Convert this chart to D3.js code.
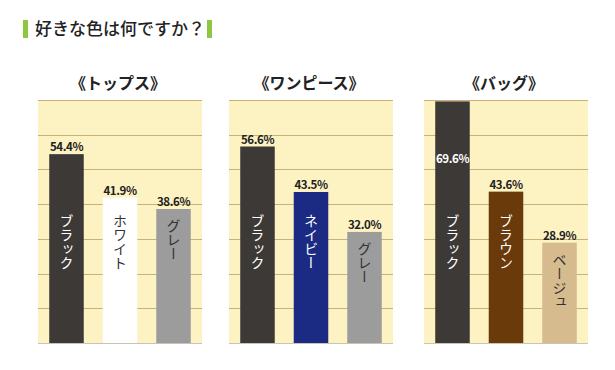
<!DOCTYPE html>
<html>
<head>
<meta charset="utf-8">
<script src="https://cdn.jsdelivr.net/npm/d3@7"></script>
<style>
  body { margin: 0; background: #fff; }
  svg text { font-family: "Noto Sans CJK JP", "Noto Sans", sans-serif; }
</style>
</head>
<body>
<svg id="chart" width="615" height="370"></svg>
<script>
// data
var title = "好きな色は何ですか？";
var panelTitles = ["《トップス》", "《ワンピース》", "《バッグ》"];
var topsNames = ["ブラック", "ホワイト", "グレー"];
var topsValues = [54.4, 41.9, 38.6];
var dressNames = ["ブラック", "ネイビー", "グレー"];
var dressValues = [56.6, 43.5, 32.0];
var bagNames = ["ブラック", "ブラウン", "ベージュ"];
var bagValues = [69.6, 43.6, 28.9];
var gridTicks = [10, 20, 30, 40, 50, 60, 70];

var topsColors = ["#3d3936", "#ffffff", "#9c9c9c"];
var dressColors = ["#3d3936", "#1b2a82", "#9c9c9c"];
var bagColors = ["#3d3936", "#6a3a0b", "#d6bb8f"];

var panels = [
  { title: panelTitles[0], names: topsNames, values: topsValues, colors: topsColors },
  { title: panelTitles[1], names: dressNames, values: dressValues, colors: dressColors },
  { title: panelTitles[2], names: bagNames, values: bagValues, colors: bagColors }
];

var svg = d3.select("#chart");

// header
svg.append("rect").attr("x", 23).attr("y", 20).attr("width", 5).attr("height", 18).attr("fill", "#8dc63f");
svg.append("text")
    .attr("x", 35).attr("y", 35)
    .attr("font-size", 17)
    .attr("font-weight", 500)
    .attr("fill", "#222")
    .text(title);
svg.append("rect").attr("x", 207).attr("y", 20).attr("width", 5).attr("height", 18).attr("fill", "#8dc63f");

var panelX = [38, 229, 424];
var panelW = 164;
var plotTop = 100, plotBottom = 343;

var y = d3.scaleLinear().domain([0, 70]).range([plotBottom, plotTop]);

panels.forEach(function(p, i) {
  var x0 = panelX[i];
  var g = svg.append("g");

  var x = d3.scaleBand()
      .domain(p.names.map(function(d, j) { return j; }))
      .range([x0, x0 + panelW])
      .paddingInner(0.355)
      .paddingOuter(0.21);

  g.append("text")
      .attr("x", x0 + panelW / 2 - 2)
      .attr("y", 89)
      .attr("text-anchor", "middle")
      .attr("font-size", 16)
      .attr("font-weight", "bold")
      .attr("fill", "#222")
      .text(p.title);

  g.append("rect")
      .attr("x", x0).attr("y", plotTop)
      .attr("width", panelW).attr("height", plotBottom - plotTop)
      .attr("fill", "#fdf2c2");

  g.selectAll(".grid")
    .data(gridTicks)
    .enter().append("line")
      .attr("x1", x0).attr("x2", x0 + panelW)
      .attr("y1", function(d) { return Math.round(y(d)) + 0.5; })
      .attr("y2", function(d) { return Math.round(y(d)) + 0.5; })
      .attr("stroke", "#c8b27c")
      .attr("stroke-width", 1);

  g.append("line")
      .attr("x1", x0).attr("x2", x0 + panelW)
      .attr("y1", plotBottom + 0.5).attr("y2", plotBottom + 0.5)
      .attr("stroke", "#c9c5b5");

  var data = p.values.map(function(v, j) {
    return { name: p.names[j], value: v, color: p.colors[j], idx: j };
  });

  g.selectAll(".bar")
    .data(data)
    .enter().append("rect")
      .attr("x", function(d) { return x(d.idx); })
      .attr("y", function(d) { return y(d.value); })
      .attr("width", x.bandwidth())
      .attr("height", function(d) { return plotBottom - y(d.value); })
      .attr("fill", function(d) { return d.color; });

  var dark = function(c) { return d3.lab(c).l < 50; };

  // value labels
  g.selectAll(".val")
    .data(data)
    .enter().append("text")
      .attr("x", function(d) { return x(d.idx) + x.bandwidth() / 2; })
      .attr("y", function(d) { return d.value > 65 ? y(d.value) + 62 : y(d.value) - 3; })
      .attr("text-anchor", "middle")
      .attr("font-size", 11.5)
      .attr("font-weight", "bold")
      .attr("letter-spacing", -0.4)
      .attr("fill", function(d) { return d.value > 65 ? "#fff" : "#222"; })
      .text(function(d) { return d.value.toFixed(1) + "%"; });

  // vertical category labels
  g.selectAll(".name")
    .data(data)
    .enter().append("text")
      .attr("x", function(d) { return x(d.idx) + x.bandwidth() / 2; })
      .attr("y", function(d) { return Math.max(y(d.value) + 10, 214); })
      .attr("writing-mode", "vertical-rl")
      .attr("font-size", 14)
      .attr("fill", function(d) { return dark(d.color) ? "#fff" : "#333"; })
      .text(function(d) { return d.name; });
});
</script>
</body>
</html>
